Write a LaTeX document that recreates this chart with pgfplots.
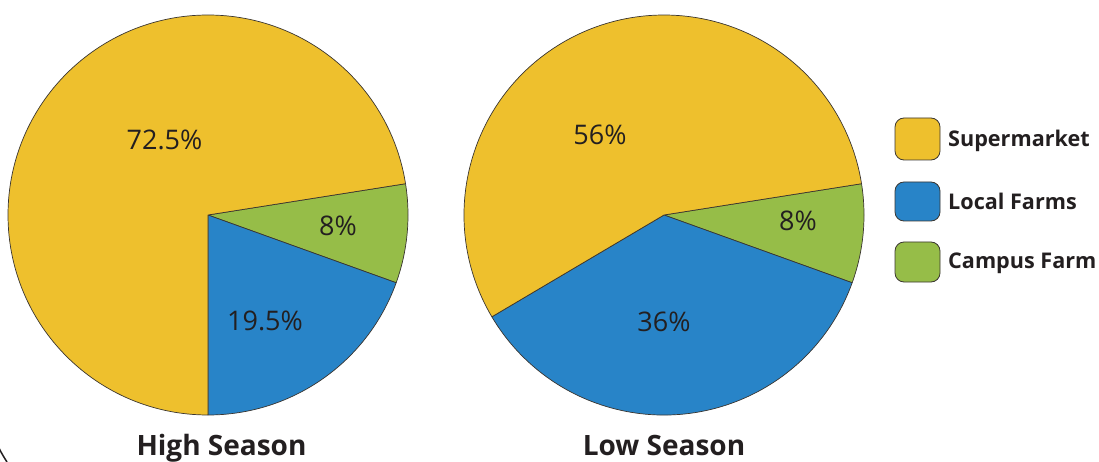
\documentclass[border=0pt]{standalone}
\usepackage{fontspec}
\setmainfont{Open Sans}
\usepackage{pgfplots}
\usepackage{pgfplotstable}
\pgfplotsset{compat=1.18}

\definecolor{super}{HTML}{EEC02D}
\definecolor{local}{HTML}{2884C8}
\definecolor{campus}{HTML}{96BD48}
\definecolor{ink}{HTML}{231F20}
\definecolor{pieedge}{HTML}{3A3530}

\newcommand\labelfont{\fontsize{27}{32}\selectfont}
\newcommand\titlefont{\fontsize{28}{33}\selectfont\bfseries}
\newcommand\keyfont{\fontsize{21.6}{25}\selectfont\bfseries}

% Shares in percent, taken clockwise from the upper edge of the campus slice.
% lx / ly: label position, measured from the top left corner of the picture.
\pgfplotstableread{
source      share color  lx    ly
Campus      8     campus 338   225.5
Local       19.5  local  265   320.5
Supermarket 72.5  super  164.5 140
}\highseason
\pgfplotstableread{
source      share color  lx  ly
Campus      8     campus 798 221
Local       36    local  664 322
Supermarket 56    super  600 135
}\lowseason

% #1 table, #2/#3 centre of the pie in axis units
\newcommand\drawpie[3]{%
  \pgfplotstablegetrowsof{#1}%
  \pgfmathtruncatemacro\lastrow{\pgfplotsretval-1}%
  \def\startang{9}%
  \pgfplotsforeachungrouped \r in {0,...,\lastrow}{%
    \pgfplotstablegetelem{\r}{share}\of#1\let\share\pgfplotsretval
    \pgfplotstablegetelem{\r}{color}\of#1\let\col\pgfplotsretval
    \pgfmathsetmacro\endang{\startang-3.6*\share}%
    \edef\cmd{\noexpand\filldraw[fill=\col, draw=pieedge, line width=0.7pt, line join=round]
      (axis cs:#2,#3) -- ++(\startang:200pt)
      arc[start angle=\startang, end angle=\endang, radius=200pt] -- cycle;}%
    \cmd
    \let\startang\endang
  }%
  \pgfplotsforeachungrouped \r in {0,...,\lastrow}{%
    \pgfplotstablegetelem{\r}{share}\of#1\let\share\pgfplotsretval
    \pgfplotstablegetelem{\r}{lx}\of#1\let\lx\pgfplotsretval
    \pgfplotstablegetelem{\r}{ly}\of#1\let\ly\pgfplotsretval
    \pgfmathsetmacro\lyup{461-\ly}%
    \edef\cmd{\noexpand\node[text=ink, font=\noexpand\labelfont]
      at (axis cs:\lx,\lyup) {\share\noexpand\%};}%
    \cmd
  }%
}

\begin{document}
\begin{tikzpicture}
\begin{axis}[
  at={(0,0)}, anchor=south west,
  scale only axis, width=1099pt, height=461pt,
  xmin=0, xmax=1099, ymin=0, ymax=461,
  hide axis, clip=false,
]
\drawpie{\highseason}{208}{246}
\drawpie{\lowseason}{664}{246}

% titles
\node[anchor=base, text=ink, font=\titlefont] at (axis cs:221.5,6) {High Season};
\node[anchor=base, text=ink, font=\titlefont] at (axis cs:664,6) {Low Season};

% key
\filldraw[fill=super,  draw=pieedge, line width=0.8pt, rounded corners=9pt]
  (axis cs:895,301) rectangle (axis cs:940,343);
\filldraw[fill=local,  draw=pieedge, line width=0.8pt, rounded corners=9pt]
  (axis cs:895,240) rectangle (axis cs:940,279);
\filldraw[fill=campus, draw=pieedge, line width=0.8pt, rounded corners=9pt]
  (axis cs:895,179) rectangle (axis cs:940,219);
\node[anchor=base west, text=ink, font=\keyfont, inner sep=0pt] at (axis cs:948,314) {Supermarket};
\node[anchor=base west, text=ink, font=\keyfont, inner sep=0pt] at (axis cs:948,251) {Local Farms};
\node[anchor=base west, text=ink, font=\keyfont, inner sep=0pt] at (axis cs:948,193) {Campus Farm};

% corner of the surrounding frame
\draw[ink, line width=1.5pt] (axis cs:-1,13) .. controls (axis cs:2,7) .. (axis cs:7,-1);
\end{axis}
\pgfresetboundingbox
\useasboundingbox (0,0) rectangle (1099pt,461pt);
\end{tikzpicture}
\end{document}
